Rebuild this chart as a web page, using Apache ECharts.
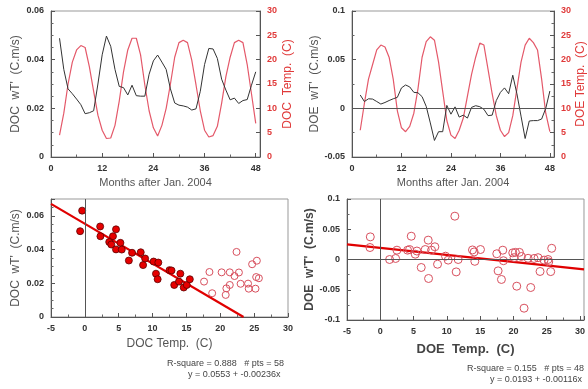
<!DOCTYPE html>
<html><head><meta charset="utf-8">
<script src="https://cdn.jsdelivr.net/npm/echarts@6/dist/echarts.min.js"></script>
<style>html,body{margin:0;padding:0;background:#fff}#c{width:588px;height:389px}</style>
</head><body><div id="c"></div>
<script>
// ---- data ----
const months = [2,3,4,5,6,7,8,9,10,11,12,13,14,15,16,17,18,19,20,21,22,23,24,25,26,27,28,29,30,31,32,33,34,35,36,37,38,39,40,41,42,43,44,45,46,47,48];
const docFlux = [0.0488,0.036,0.028,0.026,0.0238,0.0215,0.0178,0.0182,0.019,0.030,0.042,0.0497,0.0455,0.036,0.029,0.0285,0.0255,0.0295,0.0252,0.025,0.025,0.034,0.0395,0.0419,0.039,0.036,0.028,0.0222,0.0213,0.021,0.0205,0.0193,0.0198,0.027,0.038,0.0446,0.0444,0.0405,0.032,0.0275,0.0235,0.0242,0.022,0.0232,0.0236,0.0295,0.035];
const docTemp = [4.5,9,15,19.5,22,22.9,22.5,18.5,13.5,8.6,5.5,3.8,3.9,6.5,11.5,17.5,22,24.4,24.4,21,14.8,9.5,6.0,4.3,6.5,10,15,20.5,23.5,24,23.5,19.9,14.8,9.5,5.5,4.1,4.4,6.3,11,16.5,20.5,23.5,24,23.5,19,13,6.9];
const doeFlux = [0.0137,0.007,0.0098,0.0095,0.007,0.0044,0.006,0.008,0.0098,0.0113,0.021,0.024,0.022,0.0164,0.016,0.012,0.002,-0.015,-0.033,-0.024,-0.024,0.003,-0.006,0.0015,-0.009,-0.007,-0.01,0.001,0.0027,0.0017,-0.001,-0.0075,-0.007,0.008,0.0164,0.021,0.015,0.034,0.015,-0.008,-0.031,-0.013,-0.0126,-0.0126,-0.011,0.0,0.0178];
const doeTemp = [5.5,11,16,19,22,23,22.6,20.5,16,9.5,6,5.2,6.3,9,14,20.5,23.7,24.7,24,19.5,13.5,7.5,4.5,3.8,5.5,8,12.5,17,20.5,23.4,23,18,13,8.5,5.5,4.2,5,8.5,14,19.5,23,24.4,23.5,22,16,9,5.2];

const docInTemp = [-0.4,-0.7,2.26,2.3,4.15,4.6,3.6,3.9,4.6,5.25,5.45,6.5,6.97,8.25,8.9,8.6,10.15,10.5,10.75,10.85,12.5,12.8,13.2,14.1,13.9,14.6,15.05,15.5];
const docInFlux = [0.0631,0.0509,0.0537,0.0479,0.0479,0.052,0.0445,0.043,0.0401,0.044,0.040,0.0335,0.0381,0.0384,0.0347,0.0308,0.0329,0.0257,0.0224,0.0323,0.0278,0.0276,0.019,0.0257,0.021,0.0175,0.019,0.0224];
const docOutTemp = [17.6,18.4,18.8,20.2,20.8,20.9,21.4,21.4,22.1,22.4,22.75,23.0,24.1,24.2,24.7,25.2,25.4,25.3,25.7];
const docOutFlux = [0.021,0.0267,0.0141,0.0265,0.0131,0.017,0.0265,0.019,0.0243,0.0386,0.0264,0.0197,0.0198,0.0168,0.0313,0.0168,0.0334,0.0237,0.0230];
const doeTempPts = [-1.5,-1.55,1.4,2.3,2.5,4.1,4.4,4.65,5.25,5.5,6.15,6.75,7.2,7.25,7.7,8.2,8.6,9.8,10.2,11.2,11.4,11.7,13.85,14.1,14.2,15.05,17.5,17.7,18.2,18.4,18.5,20.1,20.3,20.5,20.9,21.2,21.6,22.2,22.6,23.1,23.7,24.0,24.6,25.2,25.3,25.75,25.6,19.9];
const doeFluxPts = [0.0374,0.0198,0.0,0.0017,0.0154,0.0154,0.0165,0.0385,0.0088,0.014,-0.0132,0.0165,0.032,-0.0314,0.0154,0.021,-0.0078,0.0055,-0.001,0.0716,-0.0205,0.0,0.0158,0.0125,-0.003,0.0165,0.0095,-0.0188,-0.033,0.0154,-0.002,0.003,0.0118,-0.0441,0.0118,0.005,-0.0805,0.002,-0.0463,0.0017,0.003,-0.0198,-0.001,0.0,-0.004,0.0185,-0.02,0.011];
const docFit = [0.0553, -0.00236];
const doeFit = [0.0193, -0.00116];
const docStats = ['R-square = 0.888   # pts = 58', 'y = 0.0553 + -0.00236x'];
const doeStats = ['R-square = 0.155   # pts = 48', 'y = 0.0193 + -0.00116x'];

// ---- chart ----
const F = '"Liberation Sans", Arial, sans-serif';
const RED = '#e4596a';
const LBL = {fontSize:9, fontWeight:'bold', color:'#333', fontFamily:F};
function ax(o){
  return {
    type:'value', min:o.min, max:o.max, interval:o.interval,
    gridIndex:o.grid, position:o.position,
    axisLine:{show:true, onZero:false, lineStyle:{color:'#555', width:1}},
    axisTick:{show:true, inside:true, length:4, lineStyle:{color:'#555'}},
    minorTick:{show:!!o.minor, splitNumber:o.minor||1, length:2.5, lineStyle:{color:'#666'}},
    splitLine:{show:false},
    axisLabel:Object.assign({}, LBL, {margin:7, showMaxLabel:o.showMax!==false, color:o.labelColor||'#333',
      formatter:function(v){ const k=Math.round((v-o.min)/o.interval*1000)/1000; return Number.isInteger(k)? String(+v.toFixed(4)) : ''; }}),
    name:o.name, nameLocation:'middle', nameGap:o.nameGap,
    nameTextStyle:Object.assign({fontSize:11, color:o.nameColor||'#555', fontFamily:F}, o.nameStyle||{})
  };
}
const pairs = (xs, ys) => xs.map((x,i)=>[x, ys[i]]);
const fitLine = (fit, x0, x1) => [[x0, fit[0]+fit[1]*x0],[x1, fit[0]+fit[1]*x1]];
const refLines = (arr) => ({silent:true, symbol:['none','none'], label:{show:false}, animation:false,
  lineStyle:{color:'#555', width:1, type:'solid'}, data:arr});

const grids = [
  {left:51, top:11, width:209, height:146},
  {left:352, top:11, width:207, height:146},
  {left:51, top:199, width:237, height:118},
  {left:347, top:199, width:241, height:121}
].map(g=>Object.assign(g,{show:true, borderColor:'#999', borderWidth:1, containLabel:false}));

const option = {
  animation:false,
  backgroundColor:'#fff',
  grid:grids,
  xAxis:[
    ax({grid:0, min:0, max:49, interval:12, minor:2, showMax:false, name:'Months after Jan. 2004', nameGap:20}),
    ax({grid:1, min:0, max:49, interval:12, minor:2, showMax:false, name:'Months after Jan. 2004', nameGap:20}),
    ax({grid:2, min:-5, max:30, interval:5, minor:2, name:'DOC Temp.  (C)', nameGap:21, nameStyle:{fontSize:12}}),
    ax({grid:3, min:-5, max:30.6, interval:5, minor:2, showMax:false, name:'DOE  Temp.  (C)', nameGap:23, nameStyle:{fontSize:13, fontWeight:'bold', color:'#444'}})
  ],
  yAxis:[
    ax({grid:0, min:0, max:0.06, interval:0.02, minor:4, position:'left', name:"DOC  wT'  (C.m/s)", nameGap:29, nameStyle:{fontSize:12}}),
    ax({grid:0, min:0, max:30, interval:5, position:'right', labelColor:'#e03a3a', name:'DOC  Temp.  (C)', nameGap:22, nameColor:'#e03a3a', nameStyle:{fontSize:12}}),
    ax({grid:1, min:-0.05, max:0.1, interval:0.05, minor:2, position:'left', name:"DOE  wT'  (C.m/s)", nameGap:30, nameStyle:{fontSize:12}}),
    ax({grid:1, min:0, max:30, interval:5, minor:2, position:'right', labelColor:'#e03a3a', name:'DOE Temp.  (C)', nameGap:21, nameColor:'#e03a3a', nameStyle:{fontSize:12}}),
    ax({grid:2, min:0, max:0.07, interval:0.02, minor:4, showMax:false, position:'left', name:"DOC  wT'  (C.m/s)", nameGap:29, nameStyle:{fontSize:12}}),
    ax({grid:3, min:-0.1, max:0.1, interval:0.05, minor:2, position:'left', name:"DOE  w'T'  (C.m/s)", nameGap:29, nameStyle:{fontSize:12, fontWeight:'bold', color:'#444'}})
  ],
  series:[
    {type:'line', xAxisIndex:0, yAxisIndex:0, data:pairs(months, docFlux), symbol:'none', lineStyle:{color:'#333', width:1}, z:3},
    {type:'line', xAxisIndex:0, yAxisIndex:1, data:pairs(months, docTemp), symbol:'none', lineStyle:{color:RED, width:1.2}, z:2},
    {type:'line', xAxisIndex:1, yAxisIndex:2, data:pairs(months, doeFlux), symbol:'none', lineStyle:{color:'#333', width:1}, z:3, markLine:refLines([{yAxis:0}])},
    {type:'line', xAxisIndex:1, yAxisIndex:3, data:pairs(months, doeTemp), symbol:'none', lineStyle:{color:RED, width:1.2}, z:2},
    {type:'scatter', xAxisIndex:2, yAxisIndex:4, data:pairs(docInTemp, docInFlux), symbol:'circle', symbolSize:7,
      itemStyle:{color:'#e60000', borderColor:'#5a0000', borderWidth:0.8, opacity:1}, z:4},
    {type:'scatter', xAxisIndex:2, yAxisIndex:4, data:pairs(docOutTemp, docOutFlux), symbol:'circle', symbolSize:7,
      itemStyle:{color:'rgba(0,0,0,0)', borderColor:'#d8505e', borderWidth:1, opacity:1}, z:4},
    {type:'line', xAxisIndex:2, yAxisIndex:4, data:fitLine(docFit, -5, -docFit[0]/docFit[1]), symbol:'none',
      lineStyle:{color:'#e00000', width:2.2}, z:3, markLine:refLines([{xAxis:0}])},
    {type:'scatter', xAxisIndex:3, yAxisIndex:5, data:pairs(doeTempPts, doeFluxPts), symbol:'circle', symbolSize:8,
      itemStyle:{color:'rgba(0,0,0,0)', borderColor:'#d8505e', borderWidth:1, opacity:1}, z:4},
    {type:'line', xAxisIndex:3, yAxisIndex:5, data:fitLine(doeFit, -5, 30.6), symbol:'none',
      lineStyle:{color:'#e00000', width:2.2}, z:3, markLine:refLines([{xAxis:0},{yAxis:0}])}
  ],
  graphic:[
    {type:'text', left:167, top:359, style:{text:docStats[0], font:'9px '+F, fill:'#444'}},
    {type:'text', left:188, top:370, style:{text:docStats[1], font:'9px '+F, fill:'#444'}},
    {type:'text', left:467, top:364, style:{text:doeStats[0], font:'9px '+F, fill:'#444'}},
    {type:'text', left:490, top:375, style:{text:doeStats[1], font:'9px '+F, fill:'#444'}}
  ]
};
const chart = echarts.init(document.getElementById('c'), null, {renderer:'canvas'});
chart.setOption(option);
</script>
</body></html>
